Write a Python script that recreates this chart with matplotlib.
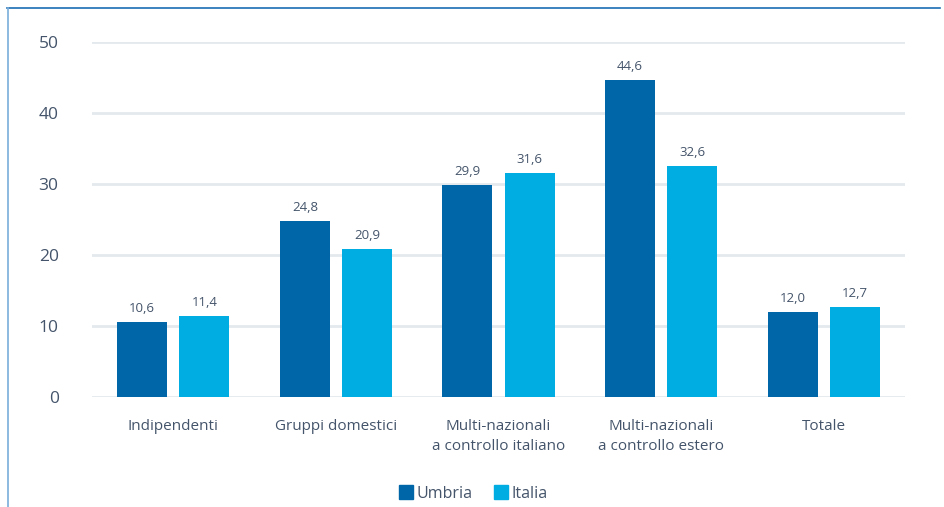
import numpy as np
import matplotlib
matplotlib.use('Agg')
import matplotlib.pyplot as plt
from matplotlib.lines import Line2D

plt.rcParams['font.family'] = ['Open Sans', 'DejaVu Sans']

categorie = ['Indipendenti', 'Gruppi domestici', 'Multi-nazionali\na controllo italiano',
             'Multi-nazionali\na controllo estero', 'Totale']
umbria = [10.6, 24.8, 29.9, 44.6, 12.0]
italia = [11.4, 20.9, 31.6, 32.6, 12.7]
serie = ['Umbria', 'Italia']
yticks = [0, 10, 20, 30, 40, 50]

c_umbria = '#0066a8'
c_italia = '#00ade3'
c_testo = '#44546a'

fig = plt.figure(figsize=(9.44, 5.07), dpi=100)
ax = fig.add_axes([92/944, 110/507, 813/944, 355/507])

x = np.arange(len(categorie))
w = 50/162.5
off = 31/162.5

for y in yticks:
    ax.axhline(y, color='#e4e9ee', lw=2, zorder=0)

b1 = ax.bar(x - off, umbria, w, color=c_umbria, zorder=2)
b2 = ax.bar(x + off, italia, w, color=c_italia, zorder=2)

for bars, vals in ((b1, umbria), (b2, italia)):
    for r, v in zip(bars, vals):
        ax.annotate(f"{v:.1f}".replace('.', ','), (r.get_x() + r.get_width()/2, v),
                    xytext=(0, 5), textcoords='offset points', ha='center', va='bottom',
                    fontsize=9.5, color=c_testo)

ax.set_xlim(-0.5, 4.5)
ax.set_ylim(0, 50)
ax.set_yticks(yticks)
ax.set_yticklabels([str(t) for t in yticks], fontsize=12.5, color=c_testo)
ax.set_xticks(x)
ax.set_xticklabels(categorie, fontsize=11, color=c_testo, linespacing=1.45)
ax.tick_params(length=0)
ax.tick_params(axis='y', pad=24)
ax.tick_params(axis='x', pad=16)
for s in ax.spines.values():
    s.set_visible(False)
ax.patch.set_alpha(0)

handles = [Line2D([], [], marker='s', ls='', color=c, markersize=9.5) for c in (c_umbria, c_italia)]
fig.legend(handles, serie, loc='center', bbox_to_anchor=(473/944, 1 - 494/507), ncol=2,
           frameon=False, fontsize=11.5, labelcolor=c_testo, handletextpad=0.15,
           columnspacing=1.3, handlelength=1.0)

# cornice
fig.add_artist(Line2D([7/944, 940/944], [1 - 8/507, 1 - 8/507], color='#1a6db3', lw=1.2))
fig.add_artist(Line2D([8/944, 8/944], [1 - 8/507, 0], color='#7aaedb', lw=1.2))

fig.savefig('out.png', dpi=100)
